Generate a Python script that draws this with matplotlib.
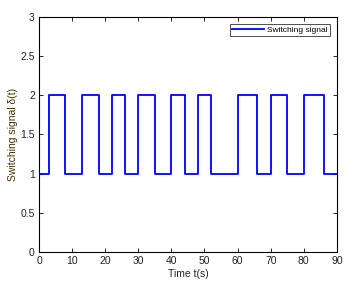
import matplotlib
matplotlib.use("Agg")
import matplotlib.pyplot as plt

switch_times = [0, 3, 8, 13, 18, 22, 26, 30, 35, 40, 44, 48, 52, 60, 66, 70, 75, 80, 86, 90]
modes = [1, 2, 1, 2, 1, 2, 1, 2, 1, 2, 1, 2, 1, 2, 1, 2, 1, 2, 1]
x_ticks = [0, 10, 20, 30, 40, 50, 60, 70, 80, 90]
y_ticks = [0, 0.5, 1, 1.5, 2, 2.5, 3]

plt.rcParams['font.family'] = ['Liberation Sans', 'DejaVu Sans']
fig = plt.figure(figsize=(3.58, 2.87), dpi=100)
ax = fig.add_axes([0.109, 0.122, 0.832, 0.819])
ax.step(switch_times, modes + [modes[-1]], where='post', color='#0000ff', lw=1.3, label='Switching signal')
ax.set_xlim(0, 90)
ax.set_ylim(0, 3)
ax.set_xticks(x_ticks)
ax.set_yticks(y_ticks)
ax.set_yticklabels(['0', '0.5', '1', '1.5', '2', '2.5', '3'])
ax.tick_params(direction='in', top=True, right=True, labelsize=7.5, length=3, width=0.6, pad=3,
               labelcolor='#222222')
for s in ax.spines.values():
    s.set_linewidth(0.8)
ax.set_xlabel('Time t(s)', fontsize=7.5, labelpad=2, color='#222222')
ax.set_ylabel('Switching signal δ(t)', fontsize=7.5, labelpad=2, color='#4a3000')
leg = ax.legend(loc='upper right', fontsize=6, frameon=True, fancybox=False, edgecolor='black',
                borderpad=0.3, handlelength=3.8, handletextpad=0.4, borderaxespad=0.8)
leg.get_frame().set_linewidth(0.6)
fig.savefig('out.png', dpi=100)
